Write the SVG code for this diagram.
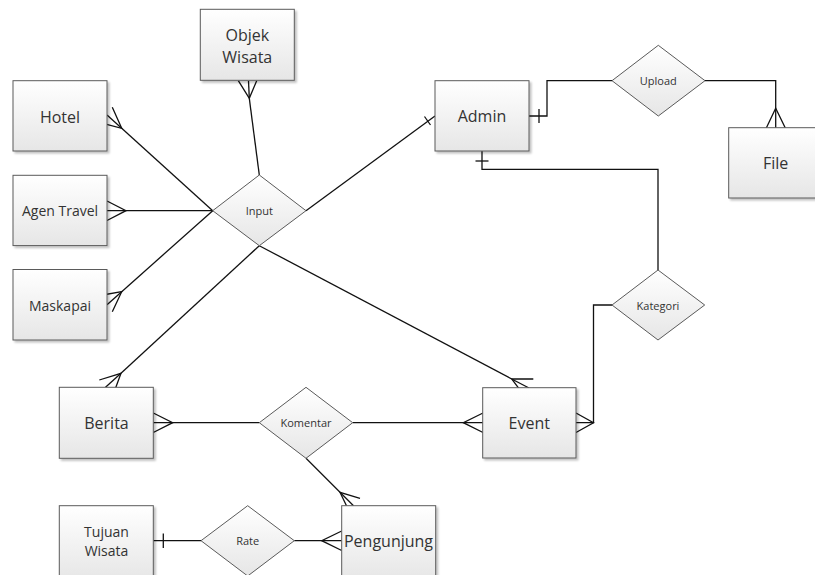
<svg xmlns="http://www.w3.org/2000/svg" width="815" height="575" viewBox="0 0 815 575">
  <defs>
    <linearGradient id="fillGrad" x1="0" y1="0" x2="0" y2="1">
      <stop offset="0" stop-color="#ffffff"/>
      <stop offset="1" stop-color="#e6e6e6"/>
    </linearGradient>
    <filter id="shadow" x="-10%" y="-10%" width="130%" height="130%">
      <feGaussianBlur in="SourceAlpha" stdDeviation="0.8"/>
      <feOffset dx="2" dy="2"/>
      <feComponentTransfer><feFuncA type="linear" slope="0.25"/></feComponentTransfer>
      <feMerge><feMergeNode/><feMergeNode in="SourceGraphic"/></feMerge>
    </filter>
  </defs>
  <style>
    .entity rect { fill: url(#fillGrad); stroke: #5a5a5a; stroke-width: 1; filter: url(#shadow); }
    .rel polygon { fill: url(#fillGrad); stroke: #5a5a5a; stroke-width: 1; }
    .lbl { font-family: "Open Sans", "Noto Sans", "Liberation Sans", sans-serif; fill: #333333; text-anchor: middle; dominant-baseline: central; }
    .big { font-size: 16px; }
    .mid { font-size: 14px; }
    .small { font-size: 11px; }
    .conn { fill: none; stroke: #111111; stroke-width: 1.3; }
  </style>

  <rect width="815" height="575" fill="#ffffff"/>

  <!-- connectors (drawn beneath the shapes) -->
  <g id="connectors" class="conn">
    <!-- Input to Objek Wisata (many) -->
    <polyline points="259.3,175 249.3,98.3"/>
    <polyline points="238.3,80.7 249.3,98.3 256.7,80.7"/>
    <polyline points="249.3,98.3 248.5,80.7"/>
    <!-- Input to Hotel (many) -->
    <polyline points="212.7,210.7 121.7,128.3"/>
    <polyline points="100,122.7 121.7,128.3 112.3,107.3"/>
    <polyline points="121.7,128.3 107,115"/>
    <!-- Input to Agen Travel (many) -->
    <polyline points="212.7,210.7 107,210.7"/>
    <polyline points="107,201 126,210.7 107,220.5"/>
    <!-- Input to Maskapai (many) -->
    <polyline points="212.7,210.7 121.7,291.7"/>
    <polyline points="100,295.5 121.7,291.7 112.3,311.7"/>
    <polyline points="121.7,291.7 107,304.7"/>
    <!-- Input to Admin (one) -->
    <polyline points="306,210.7 435,116"/>
    <polyline points="424.5,116.5 430.5,125"/>
    <!-- Input to Berita (many) -->
    <polyline points="259.3,245.7 121,373.3"/>
    <polyline points="99.3,380 121,373.3 113.3,394.3"/>
    <polyline points="121,373.3 105.5,387.3"/>
    <!-- Input to Event (many) -->
    <polyline points="259.3,245.7 511.7,379"/>
    <polyline points="533.3,379 511.7,379 525,396.7"/>
    <polyline points="511.7,379 529,388"/>
    <!-- Admin to Upload (one) -->
    <polyline points="529,116 547,116 547,80.7 612,80.7"/>
    <polyline points="539,109 539,123"/>
    <!-- Upload to File (many) -->
    <polyline points="705,80.7 775.7,80.7 775.7,128"/>
    <polyline points="766.3,128 775.7,108.3 785.3,128"/>
    <!-- Admin to Kategori (one) -->
    <polyline points="482,151 482,169.3 658,169.3 658,270"/>
    <polyline points="475.5,161 488.5,161"/>
    <!-- Kategori to Event (many) -->
    <polyline points="612,305 593.5,305 593.5,422.7 576,422.7"/>
    <polyline points="576,413 593.5,422.7 576,432.5"/>
    <!-- Berita to Komentar (many) -->
    <polyline points="153.3,422.7 259.3,422.7"/>
    <polyline points="153.3,413 172.7,422.7 153.3,432.5"/>
    <!-- Komentar to Event (many) -->
    <polyline points="352.7,422.7 483,422.7"/>
    <polyline points="483,413 463.3,422.7 483,432.5"/>
    <!-- Komentar to Pengunjung (many) -->
    <polyline points="306,458.3 340,492.3"/>
    <polyline points="360,498.3 340,492.3 346.5,505.7"/>
    <polyline points="340,492.3 353.5,505.7"/>
    <!-- Tujuan Wisata to Rate (one) -->
    <polyline points="153.3,540.7 201,540.7"/>
    <polyline points="163.3,533.5 163.3,548"/>
    <!-- Rate to Pengunjung (many) -->
    <polyline points="294.3,540.7 341.7,540.7"/>
    <polyline points="341.7,531 321.7,540.7 341.7,550.5"/>
  </g>

  <!-- entities -->
  <g id="objek-wisata" class="entity">
    <rect x="200.3" y="9.3" width="94" height="71"/>
    <text class="lbl big" x="247.3" y="35">Objek</text>
    <text class="lbl big" x="247.3" y="57">Wisata</text>
  </g>
  <g id="hotel" class="entity">
    <rect x="13" y="80.7" width="94" height="70.3"/>
    <text class="lbl big" x="60" y="116.5">Hotel</text>
  </g>
  <g id="agen-travel" class="entity">
    <rect x="13" y="175.3" width="94" height="70.3"/>
    <text class="lbl mid" x="60" y="210.5">Agen Travel</text>
  </g>
  <g id="maskapai" class="entity">
    <rect x="13" y="269.5" width="94" height="70.5"/>
    <text class="lbl mid" x="60" y="305">Maskapai</text>
  </g>
  <g id="admin" class="entity">
    <rect x="435" y="80.7" width="94" height="70.3"/>
    <text class="lbl big" x="482" y="115.5">Admin</text>
  </g>
  <g id="file" class="entity">
    <rect x="728.7" y="127.7" width="94" height="70.3"/>
    <text class="lbl big" x="775.7" y="163">File</text>
  </g>
  <g id="berita" class="entity">
    <rect x="59.3" y="387.3" width="94" height="71"/>
    <text class="lbl big" x="106.5" y="422.5">Berita</text>
  </g>
  <g id="event" class="entity">
    <rect x="482.7" y="387.7" width="93.3" height="70.3"/>
    <text class="lbl big" x="529.3" y="422.5">Event</text>
  </g>
  <g id="tujuan-wisata" class="entity">
    <rect x="59.3" y="505.7" width="94" height="75"/>
    <text class="lbl mid" x="106.5" y="531.5">Tujuan</text>
    <text class="lbl mid" x="106.5" y="550">Wisata</text>
  </g>
  <g id="pengunjung" class="entity">
    <rect x="341.7" y="505.7" width="94" height="75"/>
    <text class="lbl big" x="388.5" y="540.5">Pengunjung</text>
  </g>

  <!-- relationships -->
  <g id="input" class="rel">
    <polygon points="212.7,210.7 259.3,175 306,210.7 259.3,245.7"/>
    <text class="lbl small" x="259.3" y="210.5">Input</text>
  </g>
  <g id="upload" class="rel">
    <polygon points="612,80.7 658.3,45.3 705,80.7 658.3,116"/>
    <text class="lbl small" x="658.3" y="80">Upload</text>
  </g>
  <g id="kategori" class="rel">
    <polygon points="612,305 658,270 704.7,305 658,340"/>
    <text class="lbl small" x="658" y="305">Kategori</text>
  </g>
  <g id="komentar" class="rel">
    <polygon points="259.3,422.7 306,387.3 352.7,422.7 306,458.3"/>
    <text class="lbl small" x="306" y="422.5">Komentar</text>
  </g>
  <g id="rate" class="rel">
    <polygon points="201,540.7 247.7,505.7 294.3,540.7 247.7,576"/>
    <text class="lbl small" x="247.7" y="540.5">Rate</text>
  </g>
</svg>
